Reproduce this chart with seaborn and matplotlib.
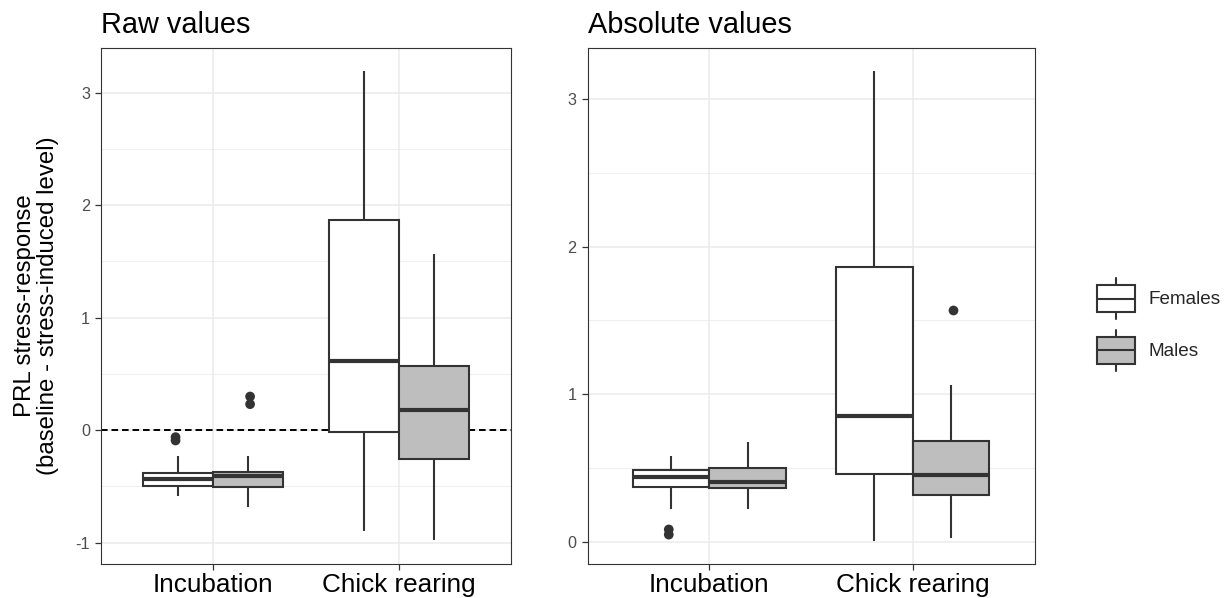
import numpy as np
import pandas as pd
import seaborn as sns
import matplotlib.pyplot as plt
from matplotlib.patches import Patch, Rectangle
from matplotlib.lines import Line2D
from matplotlib.legend_handler import HandlerBase
from matplotlib.ticker import MultipleLocator

stages = ["Incubation", "Chick rearing"]
sexes = ["Females", "Males"]
fills = {"Females": "white", "Males": "#BEBEBE"}

# box summaries: lower whisker, Q1, median, Q3, upper whisker
raw_inc_f = [-0.583, -0.494, -0.435, -0.382, -0.228]
raw_inc_m = [-0.684, -0.503, -0.411, -0.370, -0.228]
raw_chick_f = [-0.900, -0.015, 0.616, 1.865, 3.190]
raw_chick_m = [-0.974, -0.260, 0.178, 0.571, 1.570]
abs_inc_f = [0.222, 0.375, 0.437, 0.490, 0.579]
abs_inc_m = [0.222, 0.364, 0.403, 0.499, 0.680]
abs_chick_f = [0.010, 0.462, 0.855, 1.862, 3.187]
abs_chick_m = [0.030, 0.318, 0.455, 0.687, 1.061]

# outlying points
raw_out_inc_f = [-0.062, -0.092]
raw_out_inc_m = [0.299, 0.231]
abs_out_inc_f = [0.085, 0.050]
abs_out_chick_m = [1.573]

raw_lim = (-1.19, 3.40)
abs_lim = (-0.149, 3.346)


def to_frame(groups):
    rows = []
    for (stage, sex), vals in groups:
        for v in vals:
            rows.append({"stage": stage, "sex": sex, "value": v})
    return pd.DataFrame(rows)


raw_box = to_frame([(("Incubation", "Females"), raw_inc_f), (("Incubation", "Males"), raw_inc_m),
                    (("Chick rearing", "Females"), raw_chick_f), (("Chick rearing", "Males"), raw_chick_m)])
abs_box = to_frame([(("Incubation", "Females"), abs_inc_f), (("Incubation", "Males"), abs_inc_m),
                    (("Chick rearing", "Females"), abs_chick_f), (("Chick rearing", "Males"), abs_chick_m)])
raw_out = to_frame([(("Incubation", "Females"), raw_out_inc_f), (("Incubation", "Males"), raw_out_inc_m)])
abs_out = to_frame([(("Incubation", "Females"), abs_out_inc_f), (("Chick rearing", "Males"), abs_out_chick_m)])

sns.set_theme(style="white")
plt.rcParams["font.family"] = ["Liberation Sans", "DejaVu Sans"]
plt.rcParams["axes.unicode_minus"] = False

fig = plt.figure(figsize=(12.3, 5.98), dpi=100)
top, bottom = 1 - 47.7 / 598, 1 - 564 / 598
ax1 = fig.add_axes([101 / 1230, bottom, (511 - 101) / 1230, top - bottom])
ax2 = fig.add_axes([587.5 / 1230, bottom, (1034.5 - 587.5) / 1230, top - bottom])

edge = "#333333"


def panel(ax, box_df, out_df, ylim, title):
    sns.boxplot(data=box_df, x="stage", y="value", hue="sex", order=stages, hue_order=sexes,
                palette=fills, saturation=1, linecolor=edge, linewidth=1.5, width=0.75,
                whis=(0, 100), showcaps=False, showfliers=False,
                medianprops={"linewidth": 3, "color": edge}, legend=False, ax=ax)
    sns.stripplot(data=out_df, x="stage", y="value", hue="sex", order=stages, hue_order=sexes,
                  palette={s: edge for s in sexes}, dodge=True, jitter=False, size=7,
                  linewidth=0, legend=False, zorder=3, ax=ax)
    ax.set_xlim(-0.6, 1.6)
    ax.set_ylim(*ylim)
    ax.set_xticks([0, 1])
    ax.set_xticklabels(stages)
    ax.yaxis.set_major_locator(MultipleLocator(1))
    ax.yaxis.set_minor_locator(MultipleLocator(0.5))
    ax.set_axisbelow(True)
    ax.grid(True, which="major", color="#EBEBEB", linewidth=1.1)
    ax.grid(True, which="minor", axis="y", color="#EBEBEB", linewidth=0.55)
    ax.tick_params(axis="x", length=4.3, width=0.9, color=edge, labelsize=18.8,
                   labelcolor="black", pad=2, bottom=True)
    ax.tick_params(axis="y", length=4.3, width=0.9, color=edge, labelsize=11.7,
                   labelcolor="#4D4D4D", pad=3.5, left=True)
    ax.tick_params(which="minor", length=0)
    for sp in ax.spines.values():
        sp.set_color(edge)
        sp.set_linewidth(0.8)
    ax.set_xlabel("")
    ax.set_ylabel("")
    ax.set_title(title, loc="left", fontsize=20.8, pad=10.4, color="black")


panel(ax1, raw_box, raw_out, raw_lim, "Raw values")
panel(ax2, abs_box, abs_out, abs_lim, "Absolute values")

ax1.axhline(0, color="black", linewidth=1.4, linestyle=(0, (3.4, 2.0)), zorder=1)
ax1.set_ylabel("PRL stress-response\n(baseline - stress-induced level)", fontsize=17.3,
               linespacing=1.08, color="black")
ax1.yaxis.set_label_coords(-0.102, 0.5)


class BoxGlyph(HandlerBase):
    def create_artists(self, legend, orig_handle, xdescent, ydescent, width, height, fontsize, trans):
        x0 = -xdescent
        cy = -ydescent + height / 2
        xm = x0 + width / 2
        hb = 9.7   # half box height, points
        hw = 15.0  # half whisker span, points
        fc = orig_handle.get_facecolor()
        rect = Rectangle((x0, cy - hb), width, 2 * hb, facecolor=fc, edgecolor=edge,
                         linewidth=1.5, transform=trans)
        med = Line2D([x0, x0 + width], [cy, cy], color=edge, linewidth=1.5, transform=trans)
        wt = Line2D([xm, xm], [cy + hb, cy + hw], color=edge, linewidth=1.5, transform=trans)
        wb = Line2D([xm, xm], [cy - hb, cy - hw], color=edge, linewidth=1.5, transform=trans)
        return [rect, med, wt, wb]


handles = [Patch(facecolor=fills[s], edgecolor=edge) for s in sexes]
fig.legend(handles, sexes, handler_map={Patch: BoxGlyph()}, loc="center left",
           bbox_to_anchor=(1097 / 1230, 1 - 324.5 / 598), frameon=False, fontsize=13.6,
           borderpad=0, borderaxespad=0, handlelength=2.0, handleheight=2.3,
           labelspacing=1.0, handletextpad=0.74)

fig.savefig("out.png", dpi=100)
